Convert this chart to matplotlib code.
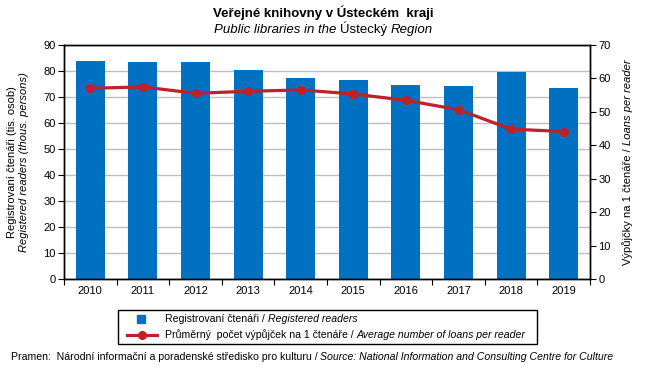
import numpy as np
import matplotlib
matplotlib.use('Agg')
import matplotlib.pyplot as plt
from matplotlib.transforms import IdentityTransform
from matplotlib.lines import Line2D
from matplotlib.patches import Rectangle

plt.rcParams['font.family'] = ['Liberation Sans', 'DejaVu Sans']

#%% data
roky = ['2010', '2011', '2012', '2013', '2014', '2015', '2016', '2017', '2018', '2019']
ctenari = [83.7, 83.3, 83.3, 80.3, 77.2, 76.5, 74.5, 74.1, 79.5, 73.4]
vypujcky = [57.0, 57.4, 55.5, 56.1, 56.5, 55.3, 53.4, 50.6, 44.8, 44.1]

MODRA = '#0070C0'
CERVENA = '#C0202A'
W, H = 650, 376

#%%
fig = plt.figure(figsize=(W / 100, H / 100), dpi=100)
ax = fig.add_axes([64 / W, 1 - 279.3 / H, (590 - 64) / W, (279.3 - 44.7) / H])
ax2 = ax.twinx()

x = np.arange(len(roky))
ax.bar(x, ctenari, width=0.55, color=MODRA, zorder=2)
ax2.plot(x, vypujcky, color=CERVENA, lw=2.3, marker='o', ms=5.5, zorder=3)

ax.set_xlim(-0.5, len(roky) - 0.5)
ax.set_ylim(0, 90)
ax.set_yticks(range(0, 91, 10))
ax2.set_ylim(0, 70)
ax2.set_yticks(range(0, 71, 10))
ax.yaxis.grid(True, color='#BFBFBF', lw=1, zorder=0)
ax.set_axisbelow(True)

# popisky roku uprostred, carky mezi kategoriemi
ax.set_xticks(np.arange(-0.5, len(roky), 1))
ax.set_xticklabels([])
ax.set_xticks(x, minor=True)
ax.set_xticklabels(roky, minor=True)
ax.tick_params(axis='x', which='minor', length=0, pad=5, labelsize=8)
ax.tick_params(axis='x', which='major', length=4, direction='out')
for a in (ax, ax2):
    a.tick_params(axis='y', length=4, direction='out', labelsize=8, pad=2)
    for s in a.spines.values():
        s.set_linewidth(1)

ax2.set_zorder(ax.get_zorder() + 1)
ax2.patch.set_visible(False)

#%% pomocna funkce: text ze sklonenych a rovnych casti
renderer = fig.canvas.get_renderer()


def sirka(t, size, style, weight='normal'):
    tx = fig.text(0, 0, t, fontsize=size, style=style, weight=weight, transform=IdentityTransform())
    w = tx.get_window_extent(renderer).width
    tx.remove()
    return w


def smiseny(px, py, casti, size, ha='left', rotation=0, weight='normal'):
    ''' casti = [(text, styl), ...]; px, py v pixelech od leveho horniho rohu
        (py je baseline pro vodorovny text, stred pro svisly) '''
    mezera = sirka('a a', size, 'normal') - sirka('aa', size, 'normal')
    celkem = 0
    pozice = []
    for t, st in casti:
        celkem += (len(t) - len(t.lstrip())) * mezera
        pozice.append(celkem)
        celkem += sirka(t.strip(), size, st, weight) + (len(t) - len(t.rstrip())) * mezera
    start = 0 if ha == 'left' else -celkem / 2
    for (t, st), p in zip(casti, pozice):
        d = start + p
        if rotation == 90:
            fig.text(px, H - py + d, t.strip(), fontsize=size, style=st, weight=weight,
                     rotation=90, ha='center', va='bottom', transform=IdentityTransform())
        else:
            fig.text(px + d, H - py, t.strip(), fontsize=size, style=st, weight=weight,
                     ha='left', va='baseline', transform=IdentityTransform())


#%% titulky a popisky
fig.text(323 / W, 1 - 17 / H, 'Veřejné knihovny v Ústeckém  kraji', ha='center', va='baseline',
         fontsize=9.5, weight='bold')
smiseny(323, 33, [('Public libraries in the ', 'italic'), ('Ústecký ', 'normal'), ('Region', 'italic')],
        9.5, ha='center')

fig.text(12 / W, 1 - 162 / H, 'Registrovaní čtenáři (tis. osob)', rotation=90, ha='center', va='center',
         fontsize=8)
fig.text(24 / W, 1 - 162 / H, 'Registered readers (thous. persons)', rotation=90, ha='center', va='center',
         fontsize=8, style='italic')
smiseny(628, 162, [('Výpůjčky na 1 čtenáře / ', 'normal'), ('Loans per reader', 'italic')], 8,
        ha='center', rotation=90)

#%% legenda
fig.patches.append(Rectangle((118.3, H - 343.7), 537.3 - 118.3, 343.7 - 310.3, fill=False,
                             edgecolor='black', lw=1, transform=IdentityTransform(), figure=fig))
fig.lines.append(Line2D([141], [H - 318.7], marker='s', ms=6, color=MODRA, ls='none',
                        transform=IdentityTransform(), figure=fig))
fig.lines.append(Line2D([127, 157], [H - 335, H - 335], color=CERVENA, lw=2.3,
                        transform=IdentityTransform(), figure=fig))
fig.lines.append(Line2D([142], [H - 335], marker='o', ms=5.5, color=CERVENA, ls='none',
                        transform=IdentityTransform(), figure=fig))
smiseny(165, 322.5, [('Registrovaní čtenáři / ', 'normal'), ('Registered readers', 'italic')], 7.6)
smiseny(165, 338.5, [('Průměrný  počet výpůjček na 1 čtenáře / ', 'normal'),
                     ('Average number of loans per reader', 'italic')], 7.6)

smiseny(11, 360, [('Pramen:  Národní informační a poradenské středisko pro kulturu / ', 'normal'),
                  ('Source: National Information and Consulting Centre for Culture', 'italic')], 7.6)

fig.savefig('out.png', dpi=100)
